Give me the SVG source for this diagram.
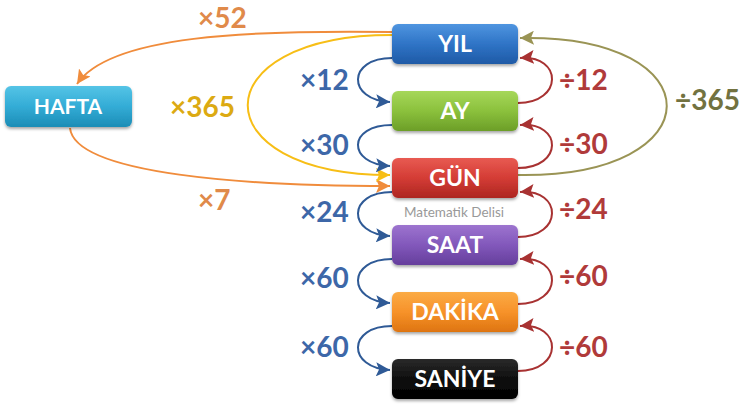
<svg xmlns="http://www.w3.org/2000/svg" width="750" height="408" viewBox="0 0 750 408">
<defs>
<style>
.bt{font-family:Lato,"Open Sans","Liberation Sans",sans-serif;font-weight:bold;font-size:23px;fill:#fff;text-anchor:middle}
.lb{font-family:Lato,"Open Sans","Liberation Sans",sans-serif;font-weight:bold;font-size:28px}
.c{fill:none;stroke-width:2}
.bl{stroke:#2f5a96}.rd{stroke:#a83232}
.lbl{fill:#3d67a8}.lrd{fill:#b03a3a}
</style>
<filter id="sh" x="-10%" y="-20%" width="120%" height="150%"><feDropShadow dx="0" dy="2" stdDeviation="1.5" flood-color="#000" flood-opacity="0.35"/></filter>
<linearGradient id="gBlue" x1="0" y1="0" x2="0" y2="1"><stop offset="0" stop-color="#4f95e0"/><stop offset="0.5" stop-color="#2f74c6"/><stop offset="1" stop-color="#1f5aa6"/></linearGradient>
<linearGradient id="gGreen" x1="0" y1="0" x2="0" y2="1"><stop offset="0" stop-color="#a6d75a"/><stop offset="0.5" stop-color="#8bc13c"/><stop offset="1" stop-color="#6c9e28"/></linearGradient>
<linearGradient id="gRed" x1="0" y1="0" x2="0" y2="1"><stop offset="0" stop-color="#e85a52"/><stop offset="0.5" stop-color="#d43c35"/><stop offset="1" stop-color="#ad2622"/></linearGradient>
<linearGradient id="gPurple" x1="0" y1="0" x2="0" y2="1"><stop offset="0" stop-color="#9d74cf"/><stop offset="0.5" stop-color="#8258bb"/><stop offset="1" stop-color="#653e9c"/></linearGradient>
<linearGradient id="gOrange" x1="0" y1="0" x2="0" y2="1"><stop offset="0" stop-color="#fbab45"/><stop offset="0.5" stop-color="#f7922a"/><stop offset="1" stop-color="#de7410"/></linearGradient>
<linearGradient id="gBlack" x1="0" y1="0" x2="0" y2="1"><stop offset="0" stop-color="#2a2a2a"/><stop offset="0.5" stop-color="#0e0e0e"/><stop offset="1" stop-color="#000"/></linearGradient>
<linearGradient id="gCyan" x1="0" y1="0" x2="0" y2="1"><stop offset="0" stop-color="#55c4e6"/><stop offset="0.5" stop-color="#33acd6"/><stop offset="1" stop-color="#1c8db6"/></linearGradient>
<marker id="aBl" markerUnits="userSpaceOnUse" markerWidth="16" markerHeight="14" refX="14" refY="7" orient="auto"><path d="M0,0 L14,7 L0,14 L3,7 Z" fill="#2f5a96"/></marker>
<marker id="aRd" markerUnits="userSpaceOnUse" markerWidth="16" markerHeight="14" refX="14" refY="7" orient="auto"><path d="M0,0 L14,7 L0,14 L3,7 Z" fill="#a83232"/></marker>
<marker id="aOl" markerUnits="userSpaceOnUse" markerWidth="16" markerHeight="14" refX="14" refY="7" orient="auto"><path d="M0,0 L14,7 L0,14 L3,7 Z" fill="#9a9455"/></marker>
<marker id="aYe" markerUnits="userSpaceOnUse" markerWidth="16" markerHeight="14" refX="14" refY="7" orient="auto"><path d="M0,0 L14,7 L0,14 L3,7 Z" fill="#f7be16"/></marker>
<marker id="aOr" markerUnits="userSpaceOnUse" markerWidth="16" markerHeight="14" refX="14" refY="7" orient="auto"><path d="M0,0 L14,7 L0,14 L3,7 Z" fill="#f08c3c"/></marker>
</defs>
<rect width="750" height="408" fill="#fff"/>
<g id="connectors">
<path class="c" stroke="#f08c3c" d="M392,32 C250,30 110,35 77,84" marker-end="url(#aOr)"/>
<path class="c" stroke="#f08c3c" d="M70,128 C75,175 250,186 390,186" marker-end="url(#aOr)"/>
<path class="c" stroke="#f7be16" d="M392,35 C200,35 200,175 390,175" marker-end="url(#aYe)"/>
<path class="c" stroke="#9a9455" d="M518,175 C716,178 716,34 520,38" marker-end="url(#aOl)"/>
<path class="c bl" d="M392,58 C347,58 347,100 390,102" marker-end="url(#aBl)"/>
<path class="c bl" d="M392,125 C347,125 347,164 390,166" marker-end="url(#aBl)"/>
<path class="c bl" d="M392,192 C347,192 347,234 390,236" marker-end="url(#aBl)"/>
<path class="c bl" d="M392,259 C347,259 347,301 390,303" marker-end="url(#aBl)"/>
<path class="c bl" d="M392,326 C347,326 347,368 390,370" marker-end="url(#aBl)"/>
<path class="c rd" d="M518,103 C563,103 563,55 520,58" marker-end="url(#aRd)"/>
<path class="c rd" d="M518,168 C563,168 563,122 520,125" marker-end="url(#aRd)"/>
<path class="c rd" d="M518,237 C563,237 563,189 520,192" marker-end="url(#aRd)"/>
<path class="c rd" d="M518,304 C563,304 563,256 520,259" marker-end="url(#aRd)"/>
<path class="c rd" d="M518,371 C563,371 563,323 520,326" marker-end="url(#aRd)"/>
</g>
<g id="node-yil"><rect x="392" y="24" width="126" height="40" rx="6" fill="url(#gBlue)" filter="url(#sh)"/><text class="bt" x="455" y="52">YIL</text></g>
<g id="node-ay"><rect x="392" y="91" width="126" height="40" rx="6" fill="url(#gGreen)" filter="url(#sh)"/><text class="bt" x="455" y="119">AY</text></g>
<g id="node-gun"><rect x="392" y="158" width="126" height="40" rx="6" fill="url(#gRed)" filter="url(#sh)"/><text class="bt" x="455" y="186">GÜN</text></g>
<g id="node-saat"><rect x="392" y="225" width="126" height="40" rx="6" fill="url(#gPurple)" filter="url(#sh)"/><text class="bt" x="455" y="253">SAAT</text></g>
<g id="node-dakika"><rect x="392" y="292" width="126" height="40" rx="6" fill="url(#gOrange)" filter="url(#sh)"/><text class="bt" x="455" y="320">DAKİKA</text></g>
<g id="node-saniye"><rect x="392" y="359" width="126" height="40" rx="6" fill="url(#gBlack)" filter="url(#sh)"/><text class="bt" x="455" y="387">SANİYE</text></g>
<g id="node-hafta"><rect x="5" y="86" width="127" height="41" rx="6" fill="url(#gCyan)" filter="url(#sh)"/><text class="bt" x="68" y="114" style="font-size:21px">HAFTA</text></g>
<g id="labels">
<text class="lb" x="198" y="28" fill="#e08a4a">×52</text>
<text class="lb" x="198" y="210" fill="#e08a4a">×7</text>
<text class="lb" x="170" y="117" fill="#dcaa12">×365</text>
<text class="lb" x="675" y="110" fill="#727240">÷365</text>
<text class="lb lbl" x="300" y="90">×12</text>
<text class="lb lbl" x="300" y="155">×30</text>
<text class="lb lbl" x="300" y="222">×24</text>
<text class="lb lbl" x="300" y="288">×60</text>
<text class="lb lbl" x="300" y="357">×60</text>
<text class="lb lrd" x="559" y="90">÷12</text>
<text class="lb lrd" x="559" y="154">÷30</text>
<text class="lb lrd" x="559" y="219">÷24</text>
<text class="lb lrd" x="559" y="286">÷60</text>
<text class="lb lrd" x="559" y="357">÷60</text>
<text x="454" y="217" text-anchor="middle" font-family="Lato,'Open Sans','Liberation Sans',sans-serif" font-size="13.5" fill="#999">Matematik Delisi</text>
</g>
</svg>
